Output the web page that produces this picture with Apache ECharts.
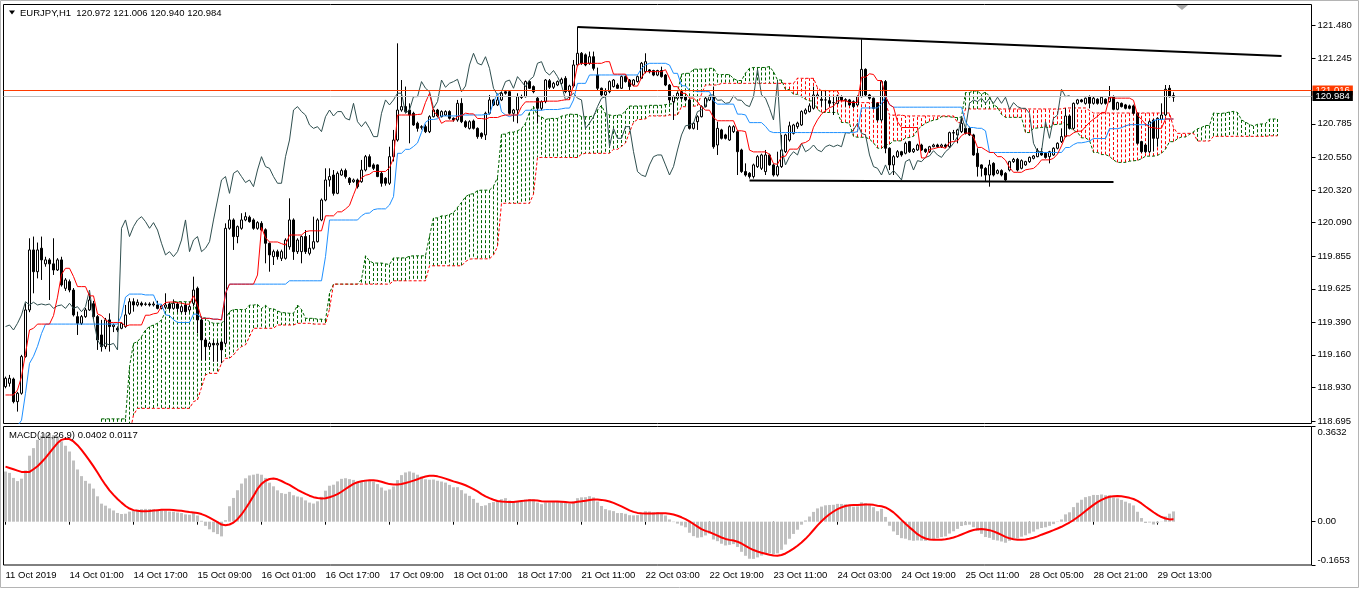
<!DOCTYPE html>
<html><head><meta charset="utf-8">
<script src="https://cdn.jsdelivr.net/npm/echarts@6/dist/echarts.min.js"></script>
<style>html,body{margin:0;padding:0;background:#fff}#c{width:1360px;height:589px}</style>
</head><body><div id="c"></div>
<script>
// ---------- data (EURJPY H1) ----------
const opens = [
118.937,118.960,118.990,118.831,118.890,119.148,119.476,119.898,119.745,119.910,
119.800,119.828,119.800,119.757,119.828,119.628,119.675,119.616,119.429,119.382,
119.429,119.476,119.520,119.429,119.300,119.218,119.406,119.359,119.347,119.347,
119.359,119.452,119.534,119.511,119.523,119.515,119.518,119.511,119.511,119.487,
119.495,119.518,119.487,119.518,119.464,119.511,119.476,119.523,119.628,119.406,
119.265,119.218,119.241,119.230,119.250,119.241,120.050,120.109,119.992,120.050,
120.109,120.128,120.109,120.050,120.085,120.040,119.945,119.851,119.886,119.839,
119.839,119.920,120.109,119.886,119.886,119.992,119.874,119.910,119.956,120.109,
120.249,120.390,120.425,120.296,120.425,120.456,120.402,120.378,120.390,120.378,
120.460,120.554,120.496,120.496,120.437,120.402,120.367,120.554,120.671,120.882,
120.906,120.882,120.859,120.789,120.760,120.765,120.730,120.835,120.882,120.835,
120.847,120.871,120.824,120.812,120.929,120.800,120.753,120.805,120.753,120.718,
120.707,120.859,120.953,120.918,120.953,121.011,121.011,120.859,120.882,120.970,
120.976,121.082,121.047,120.965,120.894,120.941,121.088,121.042,121.058,121.070,
121.105,121.011,121.051,121.199,121.281,121.270,121.211,121.257,121.128,121.035,
120.988,121.011,121.047,121.058,121.035,121.117,121.093,121.058,121.082,121.105,
121.152,121.164,121.160,121.128,121.160,121.128,121.058,120.941,120.965,121.011,
120.976,120.953,120.753,120.800,120.835,120.906,120.953,120.976,120.636,120.742,
120.707,120.671,120.730,120.730,120.601,120.449,120.437,120.414,120.484,120.472,
120.449,120.566,120.496,120.425,120.484,120.589,120.671,120.718,120.765,120.777,
120.859,120.871,120.894,120.976,120.958,120.953,120.948,120.934,120.929,120.976,
120.955,120.953,120.941,120.918,120.976,121.168,120.988,120.965,120.929,120.812,
121.082,120.613,120.496,120.554,120.589,120.578,120.660,120.589,120.601,120.636,
120.606,120.589,120.624,120.636,120.624,120.636,120.624,120.723,120.707,120.730,
120.753,120.753,120.707,120.578,120.496,120.472,120.425,120.507,120.437,120.456,
120.437,120.460,120.519,120.535,120.472,120.496,120.519,120.542,120.554,120.589,
120.578,120.554,120.566,120.613,120.660,120.695,120.840,120.753,120.929,120.953,
120.929,120.976,120.929,120.958,120.929,120.958,120.941,120.976,120.887,120.929,
120.918,120.911,120.911,120.859,120.660,120.636,120.589,120.812,120.683,120.817,
120.847,121.035,120.972];
const closes = [
118.995,118.995,118.831,118.890,119.148,119.476,119.898,119.745,119.898,119.828,
119.828,119.800,119.757,119.828,119.652,119.687,119.616,119.441,119.382,119.429,
119.476,119.546,119.429,119.265,119.218,119.406,119.359,119.370,119.335,119.382,
119.441,119.534,119.511,119.530,119.511,119.518,119.511,119.518,119.487,119.505,
119.511,119.487,119.523,119.487,119.499,119.464,119.499,119.616,119.406,119.265,
119.218,119.241,119.230,119.241,119.195,120.050,120.109,119.992,120.062,120.109,
120.132,120.097,120.050,120.090,120.038,119.945,119.863,119.886,119.851,119.886,
119.968,120.109,119.886,119.968,119.992,119.886,119.910,119.956,120.109,120.249,
120.390,120.414,120.296,120.437,120.456,120.414,120.372,120.390,120.343,120.460,
120.554,120.484,120.472,120.414,120.367,120.367,120.554,120.671,120.882,120.906,
120.871,120.847,120.777,120.753,120.765,120.730,120.835,120.882,120.840,120.871,
120.871,120.824,120.812,120.929,120.800,120.765,120.800,120.753,120.695,120.695,
120.859,120.953,120.918,120.953,121.000,121.000,120.859,120.882,120.976,120.976,
121.082,121.035,121.011,120.894,120.941,121.093,121.042,121.070,121.082,121.098,
121.011,121.051,121.199,121.281,121.211,121.199,121.257,121.175,121.035,120.988,
121.011,121.082,121.093,121.035,121.117,121.082,121.047,121.093,121.117,121.211,
121.222,121.152,121.128,121.160,121.117,121.058,120.953,120.976,121.000,120.965,
120.953,120.753,120.789,120.835,120.906,120.965,120.976,120.624,120.753,120.683,
120.683,120.765,120.765,120.589,120.449,120.425,120.414,120.496,120.554,120.566,
120.566,120.496,120.425,120.484,120.601,120.707,120.771,120.777,120.790,120.871,
120.882,120.911,120.988,120.988,120.950,120.953,120.929,120.934,120.981,120.953,
120.950,120.918,120.906,120.976,121.168,120.988,120.965,120.894,120.812,121.082,
120.613,120.496,120.554,120.589,120.566,120.648,120.589,120.606,120.636,120.601,
120.589,120.624,120.636,120.624,120.636,120.624,120.723,120.720,120.742,120.789,
120.718,120.707,120.566,120.484,120.472,120.425,120.496,120.425,120.456,120.425,
120.390,120.519,120.535,120.460,120.526,120.519,120.549,120.559,120.596,120.566,
120.549,120.589,120.613,120.648,120.695,120.840,120.753,120.929,120.953,120.941,
120.965,120.929,120.965,120.929,120.972,120.929,120.972,120.887,120.934,120.906,
120.894,120.894,120.859,120.648,120.589,120.589,120.800,120.683,120.824,120.847,
121.028,120.976,120.984];
const lows = [
118.925,118.937,118.819,118.761,118.880,119.140,119.460,119.593,119.698,119.687,
119.780,119.546,119.722,119.750,119.640,119.610,119.600,119.430,119.300,119.370,
119.420,119.470,119.410,119.195,119.183,119.200,119.183,119.320,119.320,119.340,
119.350,119.441,119.464,119.500,119.500,119.505,119.500,119.500,119.480,119.480,
119.480,119.470,119.480,119.460,119.455,119.440,119.460,119.500,119.312,119.124,
119.124,119.200,119.112,119.112,119.101,119.230,120.040,119.898,119.945,120.040,
120.100,120.090,120.040,120.040,120.030,119.804,119.745,119.792,119.830,119.820,
119.830,119.900,119.828,119.870,119.804,119.870,119.860,119.900,119.950,120.100,
120.240,120.343,120.280,120.290,120.420,120.400,120.355,120.370,120.330,120.370,
120.450,120.480,120.460,120.410,120.343,120.350,120.355,120.520,120.660,120.870,
120.860,120.648,120.770,120.730,120.745,120.720,120.720,120.830,120.830,120.830,
120.840,120.815,120.800,120.800,120.790,120.755,120.745,120.745,120.680,120.680,
120.671,120.850,120.910,120.910,120.945,120.990,120.850,120.800,120.789,120.960,
120.970,121.030,121.000,120.789,120.880,120.930,121.030,121.030,121.050,121.060,
121.000,120.953,121.040,121.190,121.200,121.190,121.200,121.160,121.020,120.976,
120.976,121.000,121.040,121.030,121.030,121.075,121.023,121.050,121.075,121.100,
121.140,121.140,121.120,121.120,121.110,121.050,120.929,120.812,120.955,120.955,
120.945,120.745,120.745,120.742,120.830,120.900,120.945,120.610,120.566,120.675,
120.675,120.665,120.720,120.425,120.440,120.414,120.400,120.400,120.475,120.460,
120.425,120.490,120.414,120.414,120.475,120.580,120.660,120.710,120.750,120.770,
120.850,120.865,120.885,120.970,120.906,120.882,120.906,120.847,120.920,120.945,
120.906,120.910,120.895,120.910,120.970,120.980,120.955,120.885,120.800,120.800,
120.578,120.460,120.425,120.545,120.554,120.570,120.580,120.580,120.595,120.595,
120.580,120.580,120.620,120.615,120.615,120.615,120.615,120.671,120.648,120.720,
120.710,120.700,120.560,120.414,120.414,120.378,120.343,120.415,120.430,120.415,
120.378,120.450,120.510,120.450,120.465,120.490,120.510,120.535,120.550,120.560,
120.540,120.507,120.560,120.605,120.650,120.690,120.745,120.745,120.920,120.935,
120.920,120.894,120.920,120.920,120.920,120.920,120.935,120.880,120.880,120.900,
120.887,120.887,120.850,120.640,120.580,120.580,120.580,120.590,120.624,120.810,
120.840,120.970,120.940];
const highs = [
119.007,119.019,119.000,118.900,119.160,119.523,119.980,119.992,119.950,119.992,
119.850,119.840,119.980,119.840,119.850,119.700,119.690,119.630,119.464,119.440,
119.490,119.593,119.540,119.440,119.406,119.420,119.452,119.380,119.360,119.390,
119.511,119.558,119.558,119.550,119.535,119.530,119.530,119.535,119.540,119.515,
119.593,119.530,119.550,119.530,119.510,119.520,119.510,119.710,119.640,119.430,
119.280,119.253,119.265,119.260,119.260,120.085,120.214,120.120,120.070,120.156,
120.163,120.140,120.120,120.100,120.100,120.050,119.950,119.900,119.900,119.900,
119.980,120.261,120.120,119.980,120.000,120.038,120.003,120.132,120.120,120.260,
120.472,120.472,120.460,120.450,120.470,120.470,120.410,120.400,120.400,120.531,
120.566,120.570,120.507,120.500,120.450,120.410,120.624,120.742,121.351,121.093,
121.047,120.929,120.870,120.800,120.775,120.780,120.845,120.890,120.890,120.880,
120.880,120.880,120.830,120.953,120.965,120.810,120.810,120.815,120.760,120.725,
120.870,120.988,120.960,120.976,121.010,121.023,121.020,120.890,121.000,120.990,
121.090,121.090,121.055,120.976,120.950,121.100,121.100,121.080,121.090,121.110,
121.120,121.060,121.234,121.468,121.290,121.280,121.293,121.293,121.180,121.040,
121.035,121.090,121.100,121.070,121.125,121.125,121.100,121.100,121.125,121.220,
121.281,121.170,121.165,121.165,121.187,121.135,121.065,120.985,121.010,121.020,
120.985,120.960,120.795,120.845,120.915,120.975,120.985,121.047,120.800,120.750,
120.715,120.775,120.775,120.740,120.610,120.507,120.445,120.505,120.565,120.575,
120.601,120.575,120.505,120.589,120.707,120.715,120.800,120.785,120.800,120.880,
120.894,120.929,121.047,121.000,121.023,121.023,120.976,120.976,120.988,120.985,
120.965,120.960,120.950,120.985,121.379,121.175,120.995,120.970,120.935,121.093,
121.093,120.620,120.565,120.600,120.595,120.660,120.665,120.615,120.645,120.645,
120.612,120.630,120.645,120.645,120.645,120.645,120.730,120.742,120.750,120.824,
120.760,120.765,120.715,120.613,120.500,120.480,120.531,120.515,120.465,120.465,
120.445,120.525,120.545,120.545,120.535,120.525,120.555,120.565,120.613,120.613,
120.585,120.595,120.620,120.655,120.753,120.894,120.850,120.935,120.960,120.960,
120.970,120.985,120.975,120.965,120.980,120.965,121.051,120.985,120.940,120.935,
120.925,120.920,120.920,120.865,120.665,120.645,120.810,120.820,120.830,120.929,
121.058,121.058,121.006];

// Ichimoku values at the left edge (their history is off-screen)
const tenkanEarly = [118.878,118.878,118.878,118.913,119.007,119.171,119.335,119.347];
const kijunEarly  = [118.55,118.58,118.62,118.66,118.70,118.89,119.10,119.15,119.22,119.31];
const spanEarlyStart = 24;
const spanAEarly = [118.71,118.71,118.71,118.71,118.71,118.71,118.71,119.077,119.241,119.253,
  119.288,119.335,119.359,119.370,119.382,119.406,119.464,119.511,119.534,119.534,
  119.534,119.534,119.534,119.534,119.45,119.42,119.42];
const spanBEarly = [118.60,118.60,118.60,118.60,118.60,118.60,118.60,118.60,118.737,
  118.784,118.784,118.784,118.784,118.784,118.784,118.784,118.784,118.784,118.784,118.784,118.784,118.784,118.784,
  118.831,118.843,118.93,119.019,119.030,119.030,119.030,119.101,119.136,119.136,119.159,119.195,119.218,119.230,119.288,
  119.347,119.347,119.347,119.347,119.347,119.347,119.370,119.370,119.370,119.370,119.370,119.382,119.382,119.382,119.382];
// MACD state at the left edge and the first signal values
const ema12Start = 118.86, ema26Start = 118.665;
const signalEarly = [0.21,0.205,0.20,0.195,0.19,0.19,0.19,0.20];

// drawn objects and price lines
const trendTop = [[143, 121.466], [319, 121.262]];
const trendBottom = [[186, 120.386], [277, 120.376]];
const askPrice = 121.016, bidPrice = 120.984;

// axis labels
const xLabels = ["11 Oct 2019","14 Oct 01:00","14 Oct 17:00","15 Oct 09:00","16 Oct 01:00","16 Oct 17:00",
  "17 Oct 09:00","18 Oct 01:00","18 Oct 17:00","21 Oct 11:00","22 Oct 03:00","22 Oct 19:00","23 Oct 11:00",
  "24 Oct 03:00","24 Oct 19:00","25 Oct 11:00","28 Oct 05:00","28 Oct 21:00","29 Oct 13:00"];
const yTicks = [121.480,121.245,120.785,120.550,120.320,120.090,119.855,119.625,119.390,119.160,118.930,118.695];
const macdTicks = [0.3632, 0, -0.1653];
const titleText = "EURJPY,H1  120.972 121.006 120.940 120.984";
const macdText = "MACD(12,26,9) 0.0402 0.0117";

// ---------- derived series (standard indicator definitions) ----------
const nCat = 327, nBars = closes.length;
const cats = Array.from({length: nCat}, (_, i) => String(i));
function midRange(i, len) {
  let hh = -Infinity, ll = Infinity;
  for (let k = Math.max(0, i - len + 1); k <= i; k++) { hh = Math.max(hh, highs[k]); ll = Math.min(ll, lows[k]); }
  return (hh + ll) / 2;
}
const blank = () => new Array(nCat).fill(null);
const tenkan = blank(), kijun = blank(), chikou = blank(), spanA = blank(), spanB = blank();
for (let i = 0; i < nBars; i++) {
  tenkan[i] = i < tenkanEarly.length ? tenkanEarly[i] : midRange(i, 9);
  kijun[i] = i < kijunEarly.length ? kijunEarly[i] : midRange(i, 26);
}
for (let i = 26; i < nBars; i++) chikou[i - 26] = closes[i];
const aEnd = spanEarlyStart + spanAEarly.length, bEnd = spanEarlyStart + spanBEarly.length;
for (let i = 0; i < nBars; i++) {
  const j = i + 26;
  if (j >= aEnd) spanA[j] = (tenkan[i] + kijun[i]) / 2;
  if (j >= bEnd) spanB[j] = midRange(i, 52);
}
spanAEarly.forEach((v, k) => spanA[spanEarlyStart + k] = v);
spanBEarly.forEach((v, k) => spanB[spanEarlyStart + k] = v);
const cloud = [];
for (let j = 0; j < nCat; j++) if (spanA[j] != null && spanB[j] != null) cloud.push([j, spanA[j], spanB[j]]);

const macd = [], signal = [];
let e12 = ema12Start, e26 = ema26Start;
for (let i = 0; i < nBars; i++) {
  e12 += (2 / 13) * (closes[i] - e12);
  e26 += (2 / 27) * (closes[i] - e26);
  macd.push(e12 - e26);
}
for (let i = 0; i < nBars; i++) {
  if (i < signalEarly.length) signal.push(signalEarly[i]);
  else { let s = 0; for (let k = i - 8; k <= i; k++) s += macd[k]; signal.push(s / 9); }
}
const candles = opens.map((o, i) => [o, closes[i], lows[i], highs[i]]);

// ---------- chart ----------
const FONT = "'Liberation Sans', Arial, sans-serif";
const FS = 9.5;
const yMin = 121.480 - (423.5 - 25) * 0.007033;
const yMax = 121.480 + (25 - 4.5) * 0.007033;
const showX = (idx) => idx % 16 === 0 && idx / 16 < xLabels.length;
const priceBox = (bg) => ({show: true, position: 'end', color: '#fff', backgroundColor: bg,
  padding: [0, 3], lineHeight: 10, distance: 1, fontSize: FS, fontFamily: FONT});

const chart = echarts.init(document.getElementById('c'), null, {renderer: 'canvas'});
chart.setOption({
  animation: false,
  backgroundColor: '#fff',
  grid: [
    {left: 3.5, top: 4.5, width: 1308, height: 419, show: true, borderColor: '#000', borderWidth: 1, backgroundColor: 'transparent'},
    {left: 3.5, top: 426.5, width: 1308, height: 138.5, show: true, borderColor: '#000', borderWidth: 1, backgroundColor: 'transparent'}
  ],
  xAxis: [
    {type: 'category', gridIndex: 0, data: cats, boundaryGap: true, axisLine: {show: false}, axisTick: {show: false}, axisLabel: {show: false}, splitLine: {show: false}},
    {type: 'category', gridIndex: 1, data: cats, boundaryGap: true, axisLine: {show: false},
      axisTick: {show: true, alignWithLabel: true, interval: showX, length: 3, lineStyle: {color: '#000'}},
      axisLabel: {interval: showX, formatter: (v, idx) => xLabels[Math.round(idx / 16)], align: 'left', margin: 5,
        color: '#000', fontSize: FS, fontFamily: FONT}, splitLine: {show: false}}
  ],
  yAxis: [
    {type: 'value', gridIndex: 0, position: 'right', min: yMin, max: yMax, splitLine: {show: false}, axisLine: {show: false},
      axisTick: {show: true, customValues: yTicks, length: 4, lineStyle: {color: '#000'}},
      axisLabel: {customValues: yTicks, formatter: v => v.toFixed(3), margin: 6, color: '#000', fontSize: FS, fontFamily: FONT}},
    {type: 'value', gridIndex: 1, position: 'right', min: macdTicks[2], max: macdTicks[0], splitLine: {show: false}, axisLine: {show: false},
      axisTick: {show: true, customValues: macdTicks, length: 4, lineStyle: {color: '#000'}},
      axisLabel: {customValues: macdTicks, margin: 6, color: '#000', fontSize: FS, fontFamily: FONT,
        formatter: v => v > 0.1 ? '{t|' + v.toFixed(4) + '}' : (v < -0.1 ? '{b|' + v.toFixed(4) + '}' : v.toFixed(2)),
        rich: {t: {padding: [11, 0, 0, 0], fontSize: FS, fontFamily: FONT, color: '#000'},
               b: {padding: [0, 0, 9, 0], fontSize: FS, fontFamily: FONT, color: '#000'}}}}
  ],
  series: [
    {type: 'custom', name: 'kumo', xAxisIndex: 0, yAxisIndex: 0, clip: true, silent: true, z: 1, data: cloud,
      renderItem: (params, api) => {
        const a = api.value(1), b = api.value(2);
        const p1 = api.coord([api.value(0), a]), p2 = api.coord([api.value(0), b]);
        const x = Math.floor(p1[0]) + 0.5;
        return {type: 'line', shape: {x1: x, y1: p1[1], x2: x, y2: p2[1]},
          style: {stroke: a >= b ? '#006400' : '#FF0000', lineWidth: 1, lineDash: [3, 2]}};
      }},
    {type: 'line', name: 'Senkou A', xAxisIndex: 0, yAxisIndex: 0, data: spanA, showSymbol: false, clip: true, z: 2,
      lineStyle: {color: '#006400', width: 1, type: [3, 2]}},
    {type: 'line', name: 'Senkou B', xAxisIndex: 0, yAxisIndex: 0, data: spanB, showSymbol: false, clip: true, z: 2,
      lineStyle: {color: '#FF0000', width: 1, type: [3, 2]}},
    {type: 'candlestick', name: 'EURJPY', xAxisIndex: 0, yAxisIndex: 0, data: candles, barWidth: 2, z: 3,
      itemStyle: {color: '#fff', color0: '#000', borderColor: '#000', borderColor0: '#000', borderWidth: 1},
      markLine: {symbol: 'none', silent: true, animation: false,
        data: [
          {yAxis: askPrice, lineStyle: {color: '#FF3C00', width: 1, type: 'solid'},
            label: Object.assign(priceBox('#FF3C00'), {formatter: askPrice.toFixed(3)})},
          {yAxis: bidPrice, lineStyle: {color: '#C0C0C0', width: 1, type: 'solid'},
            label: Object.assign(priceBox('#000'), {formatter: bidPrice.toFixed(3)})}
        ]}},
    {type: 'line', name: 'Chikou', xAxisIndex: 0, yAxisIndex: 0, data: chikou, showSymbol: false, clip: true, z: 4,
      lineStyle: {color: '#2F4F4F', width: 1}},
    {type: 'line', name: 'Kijun', xAxisIndex: 0, yAxisIndex: 0, data: kijun, showSymbol: false, clip: true, z: 4,
      lineStyle: {color: '#1E90FF', width: 1}},
    {type: 'line', name: 'Tenkan', xAxisIndex: 0, yAxisIndex: 0, data: tenkan, showSymbol: false, clip: true, z: 4,
      lineStyle: {color: '#FF0000', width: 1}},
    {type: 'line', name: 'trend1', xAxisIndex: 0, yAxisIndex: 0, data: trendTop, showSymbol: false, z: 5,
      lineStyle: {color: '#000', width: 2}},
    {type: 'line', name: 'trend2', xAxisIndex: 0, yAxisIndex: 0, data: trendBottom, showSymbol: false, z: 5,
      lineStyle: {color: '#000', width: 2}},
    {type: 'bar', name: 'MACD', xAxisIndex: 1, yAxisIndex: 1, data: macd, barWidth: 3, itemStyle: {color: '#C0C0C0'}, z: 2},
    {type: 'line', name: 'Signal', xAxisIndex: 1, yAxisIndex: 1, data: signal, showSymbol: false, z: 3,
      lineStyle: {color: '#FF0000', width: 2}}
  ],
  graphic: [
    {type: 'rect', shape: {x: 0.5, y: 0.5, width: 1358, height: 587}, style: {fill: 'none', stroke: '#B4B4B4', lineWidth: 1}, silent: true, z: 0},
    {type: 'polygon', shape: {points: [[9, 10.5], [15, 10.5], [12, 14.5]]}, style: {fill: '#000'}, silent: true},
    {type: 'text', x: 20, y: 13, style: {text: titleText, font: FS + 'px ' + FONT, fill: '#000', verticalAlign: 'middle'}, silent: true},
    {type: 'text', x: 9, y: 435, style: {text: macdText, font: FS + 'px ' + FONT, fill: '#000', verticalAlign: 'middle'}, silent: true, z: 10},
    {type: 'polygon', shape: {points: [[1176, 5], [1188, 5], [1182, 10]]}, style: {fill: '#A9A9A9'}, silent: true}
  ]
});
</script></body></html>
